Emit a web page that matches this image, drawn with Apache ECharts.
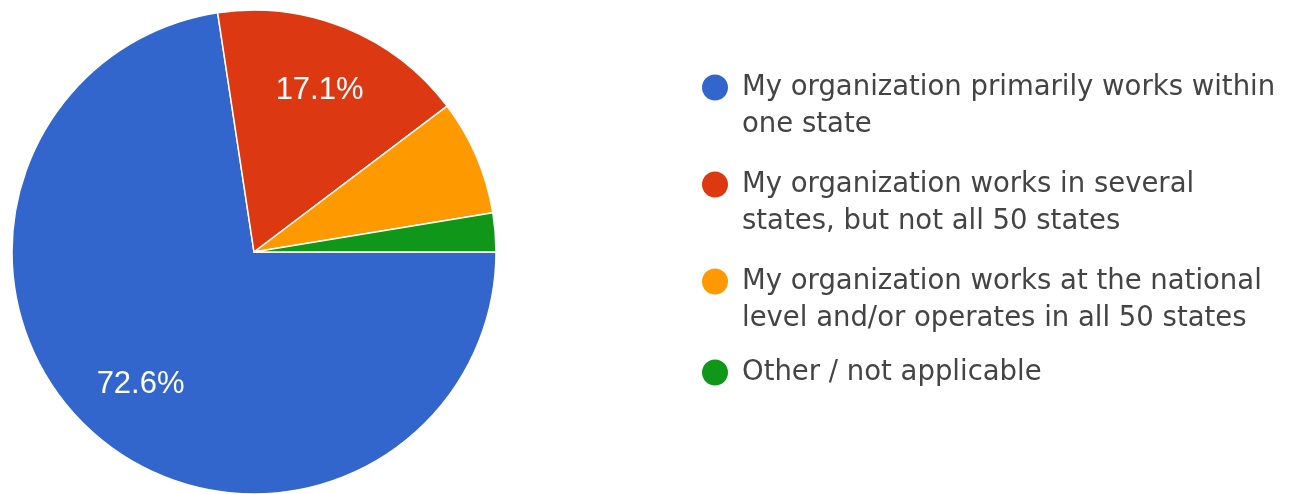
<!DOCTYPE html>
<html><head><meta charset="utf-8">
<script src="https://cdn.jsdelivr.net/npm/echarts@6/dist/echarts.min.js"></script>
<style>html,body{margin:0;padding:0;background:#fff}#c{width:1293px;height:494px}</style>
</head><body><div id="c"></div>
<script>
const categories = [
  'My organization primarily works within one state',
  'My organization works in several states, but not all 50 states',
  'My organization works at the national level and/or operates in all 50 states',
  'Other / not applicable'
];
const values = [72.6, 17.1, 7.7, 2.6];
const legendLines = [
  ['My organization primarily works within', 'one state'],
  ['My organization works in several', 'states, but not all 50 states'],
  ['My organization works at the national', 'level and/or operates in all 50 states'],
  ['Other / not applicable']
];
const colors = ['#3366cc', '#dc3912', '#ff9900', '#109618'];

const chart = echarts.init(document.getElementById('c'));
const data = categories.map((n, i) => ({ name: n, value: values[i], itemStyle: { color: colors[i] } }));
const labelData = categories.map((n, i) => ({ name: n, value: values[i] }));
chart.setOption({
  animation: false,
  legend: {
    orient: 'vertical',
    left: 695,
    top: 27,
    icon: 'circle',
    itemWidth: 28,
    itemHeight: 28,
    itemGap: -14,
    selectedMode: false,
    data: categories.map((n, i) => ({
      name: n,
      textStyle: legendLines[i].length === 1 ? { lineHeight: 33 } : {}
    })),
    formatter: function (name) {
      const l = legendLines[categories.indexOf(name)];
      return l.length === 1 ? '\n' + l[0] + '\n' : '\n' + l.join('\n');
    },
    textStyle: {
      fontFamily: 'DejaVu Sans',
      fontSize: 27.5,
      color: '#444',
      lineHeight: 37,
      padding: [0, 0, 0, 8]
    }
  },
  series: [
    {
      type: 'pie',
      center: [254, 252],
      radius: 242,
      startAngle: 0,
      clockwise: true,
      avoidLabelOverlap: false,
      label: { show: false },
      labelLine: { show: false },
      itemStyle: { borderColor: '#fff', borderWidth: 1.5 },
      emphasis: { disabled: true },
      data: data
    },
    {
      type: 'pie',
      center: [254, 252],
      radius: [100, 242],
      startAngle: 0,
      clockwise: true,
      silent: true,
      legendHoverLink: false,
      avoidLabelOverlap: false,
      itemStyle: { color: 'rgba(0,0,0,0)', borderWidth: 0 },
      labelLine: { show: false },
      emphasis: { disabled: true },
      label: {
        show: true,
        position: 'inside',
        color: '#fff',
        fontFamily: 'Liberation Sans',
        fontSize: 31,
        formatter: p => (p.value >= 10 ? p.value.toFixed(1) + '%' : '')
      },
      data: labelData
    }
  ]
});
</script></body></html>
